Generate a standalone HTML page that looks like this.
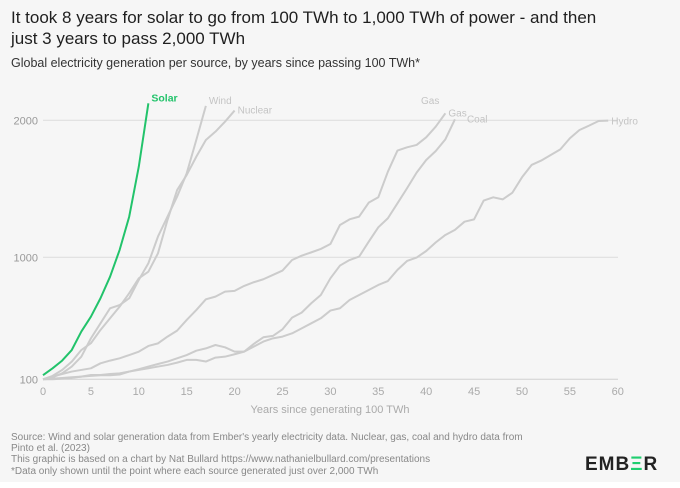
<!DOCTYPE html>
<html><head><meta charset="utf-8">
<style>
body{margin:0;width:680px;height:488px;background:#fff;overflow:hidden;font-family:"Liberation Sans",sans-serif}
#bg{position:absolute;left:0;top:0;width:680px;height:482px;background:#f6f6f6}
.t{position:absolute;color:#222}
</style></head><body>
<div id="bg"></div>
<div class="t" style="left:11px;top:7px;font-size:17px;line-height:21px;width:605px;color:#1f1f1f">It took 8 years for solar to go from 100 TWh to 1,000 TWh of power - and then just 3 years to pass 2,000 TWh</div>
<div class="t" style="left:11px;top:56px;font-size:12.5px;color:#333">Global electricity generation per source, by years since passing 100 TWh*</div>
<svg id="c" width="680" height="488" style="position:absolute;left:0;top:0"></svg>
<div class="t" style="left:11px;top:432px;font-size:10px;line-height:11.2px;color:#888;width:535px">Source: Wind and solar generation data from Ember's yearly electricity data. Nuclear, gas, coal and hydro data from Pinto et al. (2023)<br>This graphic is based on a chart by Nat Bullard https://www.nathanielbullard.com/presentations<br>*Data only shown until the point where each source generated just over 2,000 TWh</div>
<div class="t" style="left:585px;top:454px;font-size:19px;font-weight:bold;letter-spacing:1px;color:#222">EMB<span style="color:#1fce6f">Ξ</span>R</div>
<script>
const years=[0,5,10,15,20,25,30,35,40,45,50,55,60];
const yTicks=[100,1000,2000];
const solar=[130,181,238,316,452,562,698,857,1054,1297,1662,2124];
const wind=[100,115,144,194,267,402,513,624,648,698,833,956,1151,1297,1443,1613,1856,2105];
const nuclear=[100,125,169,230,316,366,464,550,636,735,845,894,1029,1273,1491,1601,1734,1856,1917,1990,2071];
const gas=[100,120,139,157,169,181,218,238,255,279,304,346,365,415,459,538,611,690,710,747,752,789,816,838,870,902,980,1012,1036,1061,1097,1236,1277,1297,1399,1438,1625,1779,1803,1820,1876,1954,2051];
const coal=[100,105,110,115,120,132,132,139,144,157,174,194,213,231,255,279,311,328,353,336,304,304,361,410,420,469,555,592,661,722,845,939,980,1005,1114,1219,1285,1394,1504,1618,1710,1776,1861,2007];
const hydro=[100,100,105,110,120,125,130,130,135,157,169,181,194,206,223,243,243,231,260,267,285,304,341,378,402,415,439,476,513,550,607,624,685,722,759,796,825,907,973,998,1046,1109,1163,1200,1260,1277,1414,1438,1423,1472,1584,1674,1706,1747,1788,1869,1929,1961,1995,1998];
const NS='http://www.w3.org/2000/svg';
const svg=document.getElementById('c');
function X(v){return 43+v*9.58;}
function Y(v){return v<=1000?379.3-(v-100)/900*122:257.3-(v-1000)/1000*137;}
function mk(t,a){const e=document.createElementNS(NS,t);for(const k in a)e.setAttribute(k,a[k]);svg.appendChild(e);return e;}
yTicks.forEach(v=>{
  const l=mk('line',{x1:43,x2:618,y1:Y(v),y2:Y(v),stroke:v===100?'#d0d0d0':'#dcdcdc','stroke-width':1});
  
  
  const t=mk('text',{x:38,y:Y(v)+4,'text-anchor':'end','font-size':11,fill:'#999'});
  t.textContent=v;
  
  
});
years.forEach(v=>{
  const t=mk('text',{x:X(v),y:395,'text-anchor':'middle','font-size':11,fill:'#aaa'});
  t.textContent=v;
  
  
});
const at=mk('text',{x:330,y:413,'text-anchor':'middle','font-size':11,fill:'#aaa'});
at.textContent='Years since generating 100 TWh';


const series=[['wind',wind,'Wind',3,-2],['nuclear',nuclear,'Nuclear',3,3],['gas',gas,'Gas',3,3],['coal',coal,'Coal',12,3],['hydro',hydro,'Hydro',3,4],['solar',solar,'Solar',3,-2]];
series.forEach(([n,d,lab,dx,dy])=>{
  const col=n==='solar'?'#22c36b':'#cccccc';
  const p=mk('polyline',{points:d.map((v,i)=>X(i)+','+Y(v)).join(' '),fill:'none',stroke:col,'stroke-width':2,'stroke-linejoin':'round'});
  
  
  const last=d.length-1;
  const t=mk('text',{x:X(last)+dx,y:Y(d[last])+dy,'font-size':n==='solar'?10.5:10,fill:n==='solar'?'#22c36b':'#c4c4c4','font-weight':n==='solar'?'bold':'normal'});
  t.textContent=lab;
  
  
});
const g2=mk('text',{x:421,y:104,'font-size':10,fill:'#c4c4c4'});
g2.textContent='Gas';


</script>
</body></html>
